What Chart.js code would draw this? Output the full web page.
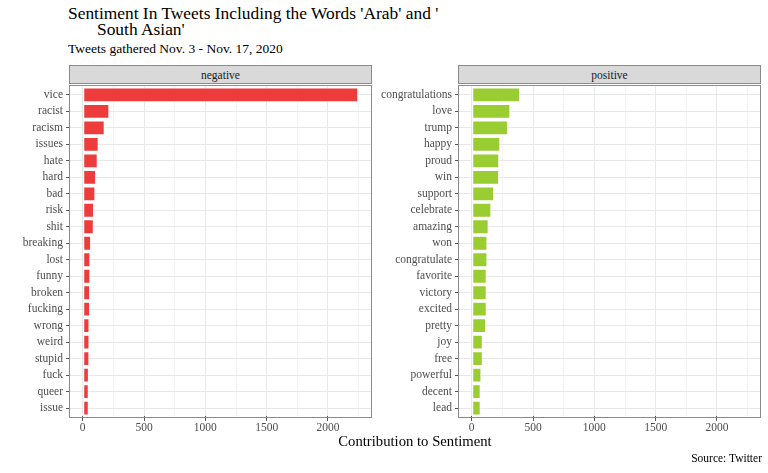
<!DOCTYPE html>
<html>
<head>
<meta charset="utf-8">
<script src="https://cdn.jsdelivr.net/npm/chart.js@4.4.1/dist/chart.umd.min.js"></script>
<style>
  body { margin: 0; background: #fff; font-family: 'Liberation Serif', serif; }
  #wrap { position: relative; width: 768px; height: 473px; overflow: hidden; }
  .txt { position: absolute; white-space: nowrap; color: #000; }
  .strip { position: absolute; height: 19px; background: #d9d9d9; border: 1px solid #8a8a8a;
           box-sizing: border-box; text-align: center; font-size: 11.5px; line-height: 18px; color: #1a1a1a; }
  canvas { position: absolute; }
</style>
</head>
<body>
<div id="wrap">
  <div class="txt" style="left:68px;top:3px;font-size:17.4px;">Sentiment In Tweets Including the Words 'Arab' and '</div>
  <div class="txt" style="left:97px;top:19px;font-size:17.4px;">South Asian'</div>
  <div class="txt" style="left:68px;top:41px;font-size:13.5px;">Tweets gathered Nov. 3 - Nov. 17, 2020</div>
  <div class="strip" style="left:69px;top:65px;width:303px;">negative</div>
  <div class="strip" style="left:458px;top:65px;width:303px;">positive</div>
  <canvas id="negChart" style="left:0;top:60px;"></canvas>
  <canvas id="posChart" style="left:375px;top:60px;"></canvas>
  <div class="txt" style="left:0;width:830px;text-align:center;top:433px;font-size:14.7px;">Contribution to Sentiment</div>
  <div class="txt" style="right:6px;top:452px;font-size:11.5px;">Source: Twitter</div>
</div>
<script>
// words and contribution values
const NEG_WORDS = ['vice', 'racist', 'racism', 'issues', 'hate', 'hard', 'bad', 'risk', 'shit', 'breaking',
  'lost', 'funny', 'broken', 'fucking', 'wrong', 'weird', 'stupid', 'fuck', 'queer', 'issue'];
const NEG_VALUES = [2247, 217, 179, 130, 122, 109, 103, 92, 90, 68,
  62, 62, 60, 60, 55, 55, 54, 50, 49, 49];

const POS_WORDS = ['congratulations', 'love', 'trump', 'happy', 'proud', 'win', 'support', 'celebrate', 'amazing', 'won',
  'congratulate', 'favorite', 'victory', 'excited', 'pretty', 'joy', 'free', 'powerful', 'decent', 'lead'];
const POS_VALUES = [394, 315, 296, 233, 224, 223, 182, 160, 138, 128,
  128, 122, 122, 122, 117, 90, 90, 79, 73, 73];

const X_MIN = -112, X_MAX = 2359;
const X_GRID = [0, 250, 500, 750, 1000, 1250, 1500, 1750, 2000, 2250];
const X_LABELS = [0, 500, 1000, 1500, 2000];

const FONT = { family: "'Liberation Serif', serif", size: 11.5 };
const TICK_COL = '#4d4d4d';
const EXTRA = 1.65; // ggplot's discrete axis has a bit more room than chart.js offset

// panel box (ggplot theme_bw border)
const panelBox = {
  id: 'panelBox',
  afterDraw(chart) {
    const a = chart.chartArea, c = chart.ctx;
    const top = Math.round(a.top - EXTRA), bottom = Math.round(a.bottom + EXTRA);
    c.save();
    c.strokeStyle = '#8a8a8a';
    c.lineWidth = 1;
    c.strokeRect(Math.round(a.left) + 0.5, top + 0.5, Math.round(a.right - a.left) - 1, bottom - top - 1);
    c.restore();
  }
};

function isMajor(v) { return X_LABELS.includes(v); }

function makeChart(id, words, values, color, w, axisW, padRight) {
  const el = document.getElementById(id);
  el.width = w; el.height = 380;
  return new Chart(el, {
    type: 'bar',
    data: {
      labels: words,
      datasets: [{ data: values, backgroundColor: color, borderColor: '#ffffff', borderWidth: 1,
        borderSkipped: false, barPercentage: 0.9, categoryPercentage: 1 }]
    },
    options: {
      indexAxis: 'y',
      responsive: false,
      animation: false,
      layout: { padding: { top: 25 + EXTRA, right: padRight, bottom: 0, left: 0 } },
      plugins: { legend: { display: false }, tooltip: { enabled: false } },
      scales: {
        x: {
          type: 'linear', min: X_MIN, max: X_MAX,
          afterBuildTicks: s => { s.ticks = X_GRID.map(v => ({ value: v })); },
          afterFit: s => { s.height = 22 + EXTRA; },
          border: { display: false },
          grid: {
            color: c => isMajor(c.tick.value) ? '#e8e8e8' : '#f3f3f3',
            lineWidth: 1,
            tickLength: 3 + EXTRA,
            tickColor: c => isMajor(c.tick.value) ? '#555' : 'rgba(0,0,0,0)'
          },
          ticks: {
            autoSkip: false, maxRotation: 0, padding: 0, color: TICK_COL, font: FONT,
            callback: v => isMajor(v) ? String(v) : ''
          }
        },
        y: {
          afterFit: s => { s.width = axisW; },
          border: { display: false },
          grid: { offset: false, color: '#e8e8e8', lineWidth: 1, tickLength: 3, tickColor: '#555' },
          ticks: { padding: 3, color: TICK_COL, font: FONT, autoSkip: false }
        }
      }
    },
    plugins: [panelBox]
  });
}

makeChart('negChart', NEG_WORDS, NEG_VALUES, '#ee3b3b', 375, 69, 3);
makeChart('posChart', POS_WORDS, POS_VALUES, '#9acd32', 393, 83, 7);
</script>
</body>
</html>
